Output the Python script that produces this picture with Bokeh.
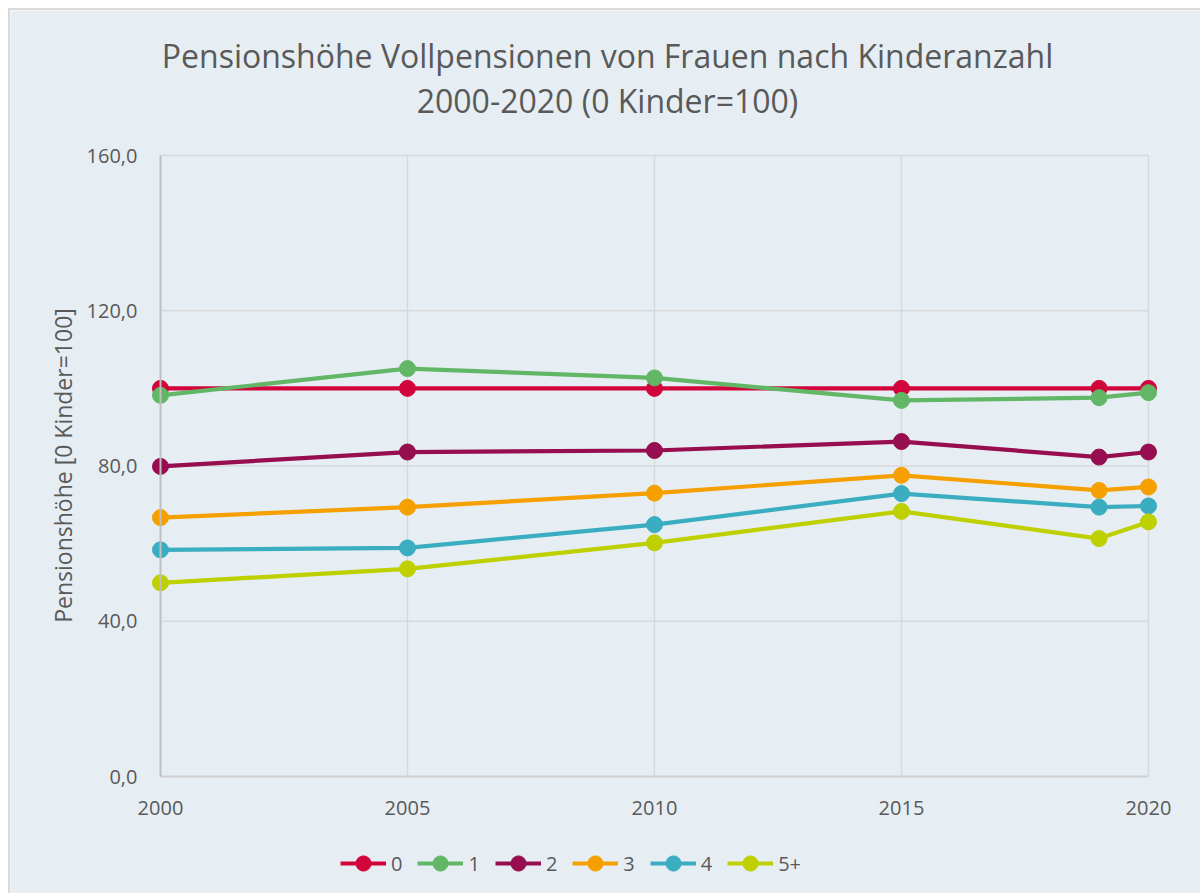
import math
from bokeh.plotting import figure
from bokeh.models import Range1d, FixedTicker, Label, Legend, LegendItem
from bokeh.embed import file_html
from bokeh.resources import INLINE

years = [2000, 2005, 2010, 2015, 2019, 2020]
series_names = ["0", "1", "2", "3", "4", "5+"]
s0 = [100.0, 100.0, 100.0, 100.0, 100.0, 100.0]
s1 = [98.2, 105.1, 102.7, 96.9, 97.6, 98.9]
s2 = [79.9, 83.6, 84.0, 86.3, 82.3, 83.6]
s3 = [66.7, 69.4, 73.0, 77.6, 73.7, 74.6]
s4 = [58.4, 58.9, 64.9, 72.9, 69.4, 69.7]
s5 = [49.9, 53.5, 60.2, 68.3, 61.3, 65.6]
series_values = [s0, s1, s2, s3, s4, s5]
colors = ["#D1043B", "#62B766", "#960E4F", "#F5A000", "#3AADC0", "#BED000"]

x_ticks = [2000, 2005, 2010, 2015, 2020]
y_ticks = [0, 40, 80, 120, 160]
y_tick_labels = ["0,0", "40,0", "80,0", "120,0", "160,0"]

title_lines = ["Pensionshöhe Vollpensionen von Frauen nach Kinderanzahl",
               "2000-2020 (0 Kinder=100)"]
y_label = "Pensionshöhe [0 Kinder=100]"

BG = "#E6EEF4"
TXT = "#595959"

W, H = 1190, 883
p = figure(width=W, height=H, output_backend="svg", toolbar_location=None,
           x_range=Range1d(1996.964, 2021.053), y_range=Range1d(-30.145, 197.36),
           frame_width=W, frame_height=H,
           min_border_left=0, min_border_right=0, min_border_top=0, min_border_bottom=0,
           background_fill_color=BG, border_fill_color=BG)
p.outline_line_color = None
p.grid.visible = False
p.styles = {"margin-left": "8px", "margin-top": "8px",
            "border-top": "2px solid #D9D9D9", "border-left": "2px solid #D9D9D9"}

# gridlines
for yt in y_ticks[1:]:
    p.segment(x0=x_ticks[0], x1=x_ticks[-1], y0=yt, y1=yt, line_color="#D9D9D9", line_width=1.5)
for xt in x_ticks[1:]:
    p.segment(x0=xt, x1=xt, y0=y_ticks[0], y1=y_ticks[-1], line_color="#D9D9D9", line_width=1.5)

items = []
for name, vals, c in zip(series_names, series_values, colors):
    r1 = p.line(years, vals, line_color=c, line_width=4.2)
    r2 = p.scatter(years, vals, marker="circle", size=16, fill_color=c, line_color=c)
    items.append(LegendItem(label=name, renderers=[r1, r2]))

# axes at fixed data locations
xa, ya = p.xaxis[0], p.yaxis[0]
xa.fixed_location = y_ticks[0]
ya.fixed_location = x_ticks[0]
xa.bounds = (x_ticks[0], x_ticks[-1])
ya.bounds = (y_ticks[0], y_ticks[-1])
xa.ticker = FixedTicker(ticks=x_ticks)
ya.ticker = FixedTicker(ticks=y_ticks)
ya.major_label_overrides = {t: l for t, l in zip(y_ticks, y_tick_labels)}
for ax in (xa, ya):
    ax.major_tick_line_color = None
    ax.minor_tick_line_color = None
    ax.major_tick_out = 0
    ax.major_tick_in = 0
    ax.axis_line_width = 2
    ax.major_label_text_font = "Open Sans"
    ax.major_label_text_font_size = "20px"
    ax.major_label_text_color = TXT
xa.axis_line_color = "#D0D0D0"
ya.axis_line_color = "#BFBFBF"
xa.major_label_standoff = 24
ya.major_label_standoff = 23

# y axis title
p.add_layout(Label(x=52, y=H - 455, x_units="screen", y_units="screen", text=y_label,
                   angle=math.pi / 2, text_align="center", text_baseline="middle",
                   text_font="Open Sans", text_font_size="23px", text_color=TXT))

# chart title
for i, line in enumerate(title_lines):
    p.add_layout(Label(x=597, y=H - 45 - 45 * i, x_units="screen", y_units="screen", text=line,
                       text_align="center", text_baseline="middle", text_font="Open Sans",
                       text_font_size="32px", text_color=TXT))

legend = Legend(items=items, orientation="horizontal", location=(330, 11),
                glyph_width=46, glyph_height=38, label_standoff=5, label_width=0,
                label_height=20, spacing=15,
                padding=0, margin=0, border_line_color=None, background_fill_alpha=0,
                label_text_font="Open Sans", label_text_font_size="20px", label_text_color=TXT)
p.add_layout(legend, "center")

open("out.html", "w").write(file_html(p, INLINE))
